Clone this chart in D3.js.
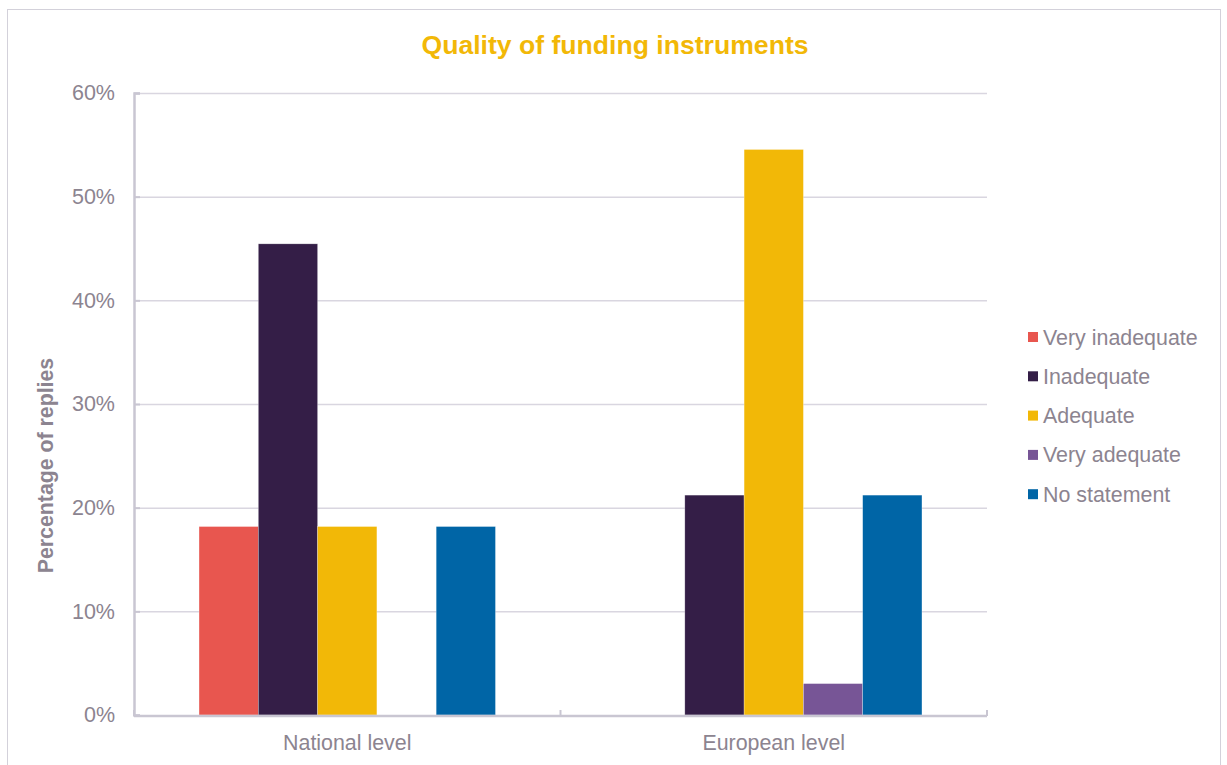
<!DOCTYPE html>
<html>
<head>
<meta charset="utf-8">
<script src="https://cdn.jsdelivr.net/npm/d3@7"></script>
<style>
  html, body { margin: 0; padding: 0; background: #fff; }
  svg { display: block; font-family: "Liberation Sans", Arial, sans-serif; }
</style>
</head>
<body>
<svg id="chart" width="1227" height="765"></svg>
<script>
// Share of replies per rating, for each funding level
const categories = ["National level", "European level"];
const series = ["Very inadequate", "Inadequate", "Adequate", "Very adequate", "No statement"];
const nationalValues = [18.18, 45.45, 18.18, 0, 18.18];
const europeanValues = [0, 21.21, 54.55, 3.03, 21.21];
const yTicks = [0, 10, 20, 30, 40, 50, 60];
const colors = ["#E8564F", "#341E47", "#F2B807", "#775596", "#0065A6"];

const rows = categories.map((c, i) => ({
  category: c,
  values: series.map((s, j) => ({ series: s, value: [nationalValues, europeanValues][i][j] }))
}));

const svg = d3.select("#chart");
const margin = { left: 134, right: 987, top: 93, bottom: 715 };
const textColor = "#8C8490";

// Outer frame
svg.append("rect")
  .attr("x", 7.5).attr("y", 9.5).attr("width", 1213).attr("height", 770)
  .attr("fill", "none").attr("stroke", "#D3D1DA").attr("stroke-width", 1);

const x0 = d3.scaleBand().domain(categories)
  .range([margin.left, margin.right]).paddingInner(0.305).paddingOuter(0.1525);
const x1 = d3.scaleBand().domain(series).range([0, x0.bandwidth()]);
const y = d3.scaleLinear().domain([0, 60]).range([margin.bottom, margin.top]);

// Gridlines
svg.append("g").selectAll("line").data(yTicks.filter(t => t > 0)).join("line")
  .attr("x1", margin.left).attr("x2", margin.right)
  .attr("y1", d => y(d) + 0.5).attr("y2", d => y(d) + 0.5)
  .attr("stroke", "#D9D6E0").attr("stroke-width", 1.5);

// Bars
const groups = svg.append("g").selectAll("g").data(rows).join("g")
  .attr("transform", d => `translate(${x0(d.category)},0)`);
groups.selectAll("rect").data(d => d.values.filter(v => v.value > 0)).join("rect")
  .attr("x", d => x1(d.series))
  .attr("width", x1.bandwidth())
  .attr("y", d => y(d.value))
  .attr("height", d => y(0) - y(d.value))
  .attr("fill", d => colors[series.indexOf(d.series)])
  .attr("stroke", "rgba(255,255,255,0.45)").attr("stroke-width", 0.6);

// Y axis
const yAxis = d3.axisLeft(y).tickValues(yTicks).tickFormat(d => d + "%").tickSize(-6).tickPadding(19);
const gy = svg.append("g").attr("transform", `translate(${margin.left},0)`).call(yAxis);
gy.select(".domain").attr("stroke", "#C9C6D2").attr("stroke-width", 2.5);
gy.selectAll(".tick line").attr("stroke", "#C9C6D2").attr("stroke-width", 2);
gy.selectAll(".tick text").attr("fill", textColor).attr("font-size", 21.5)
  .attr("font-family", "Liberation Sans, Arial, sans-serif");

// X axis with boundary ticks between categories
const gx = svg.append("g");
gx.append("line")
  .attr("x1", margin.left).attr("x2", margin.right)
  .attr("y1", y(0) + 1).attr("y2", y(0) + 1)
  .attr("stroke", "#C9C6D2").attr("stroke-width", 2.5);
const boundaries = [margin.left, (margin.left + margin.right) / 2, margin.right];
gx.selectAll("line.tk").data(boundaries).join("line").attr("class", "tk")
  .attr("x1", d => d).attr("x2", d => d)
  .attr("y1", y(0) + 1).attr("y2", y(0) - 5)
  .attr("stroke", "#C9C6D2").attr("stroke-width", 2);
gx.selectAll("text").data(categories).join("text")
  .attr("x", d => x0(d) + x0.bandwidth() / 2)
  .attr("y", 750)
  .attr("text-anchor", "middle")
  .attr("fill", textColor).attr("font-size", 21.4)
  .text(d => d);

// Y axis title
svg.append("text")
  .attr("transform", "translate(53,465.5) rotate(-90)")
  .attr("text-anchor", "middle")
  .attr("fill", textColor).attr("font-size", 21.3).attr("font-weight", "bold")
  .text("Percentage of replies");

// Chart title
svg.append("text")
  .attr("x", 615).attr("y", 54)
  .attr("text-anchor", "middle")
  .attr("fill", "#F2B807").attr("font-size", 26.6).attr("font-weight", "bold")
  .text("Quality of funding instruments");

// Legend
const legend = svg.append("g").selectAll("g").data(series).join("g")
  .attr("transform", (d, i) => `translate(1028,${337 + i * 39.3})`);
legend.append("rect")
  .attr("x", 0).attr("y", -5).attr("width", 10).attr("height", 10)
  .attr("fill", (d, i) => colors[i]);
legend.append("text")
  .attr("x", 15).attr("y", 7.5)
  .attr("fill", textColor).attr("font-size", 21.4)
  .text(d => d);
</script>
</body>
</html>
